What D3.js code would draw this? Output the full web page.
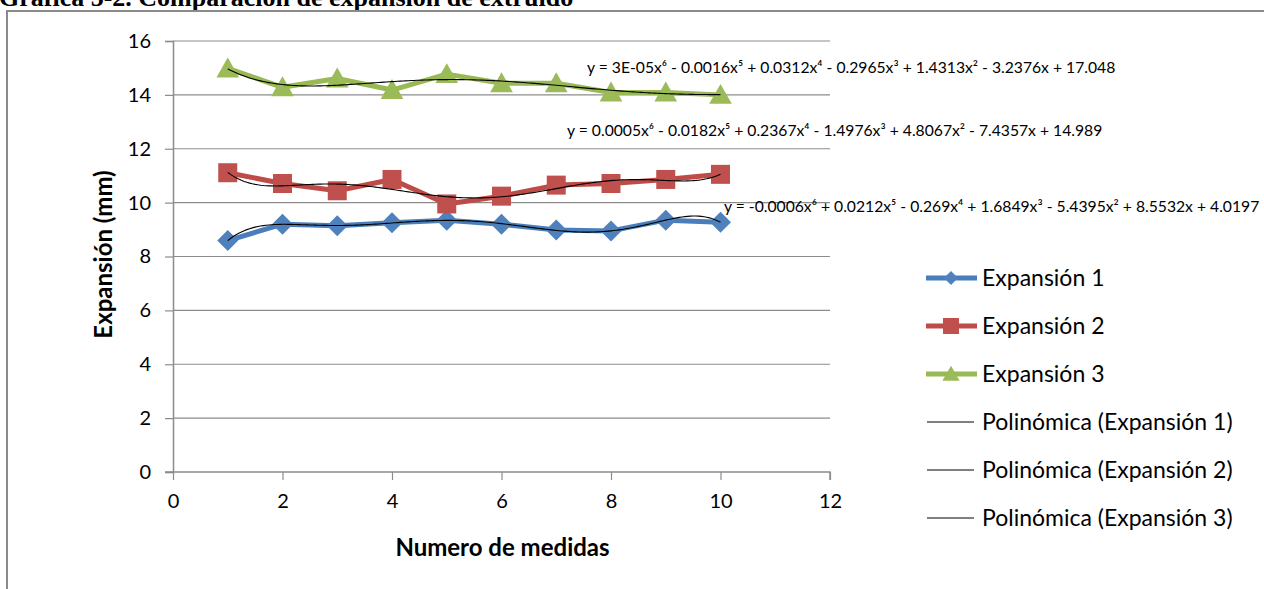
<!DOCTYPE html>
<html>
<head>
<meta charset="utf-8">
<script src="https://cdn.jsdelivr.net/npm/d3@7"></script>
<style>
  html, body { margin: 0; padding: 0; background: #ffffff; }
  svg { display: block; }
</style>
</head>
<body>
<svg id="chart" width="1264" height="589"></svg>
<script>
// ---- Data ----
const medidas = [1, 2, 3, 4, 5, 6, 7, 8, 9, 10];
const expansion1 = [8.59, 9.20, 9.14, 9.25, 9.35, 9.20, 8.98, 8.95, 9.35, 9.27];
const expansion2 = [11.11, 10.71, 10.44, 10.86, 9.95, 10.24, 10.65, 10.71, 10.86, 11.05];
const expansion3 = [14.98, 14.28, 14.61, 14.18, 14.77, 14.43, 14.43, 14.09, 14.09, 14.00];
const seriesNames = ["Expansión 1", "Expansión 2", "Expansión 3"];
const trendNames = ["Polinómica (Expansión 1)", "Polinómica (Expansión 2)", "Polinómica (Expansión 3)"];
const equations = [
  "y = -0.0006x⁶ + 0.0212x⁵ - 0.269x⁴ + 1.6849x³ - 5.4395x² + 8.5532x + 4.0197",
  "y = 0.0005x⁶ - 0.0182x⁵ + 0.2367x⁴ - 1.4976x³ + 4.8067x² - 7.4357x + 14.989",
  "y = 3E-05x⁶ - 0.0016x⁵ + 0.0312x⁴ - 0.2965x³ + 1.4313x² - 3.2376x + 17.048"
];
const xTicks = [0, 2, 4, 6, 8, 10, 12];
const yTicks = [0, 2, 4, 6, 8, 10, 12, 14, 16];
const titleText = "Gráfica 5-2. Comparación de expansión de extruido";
const xTitle = "Numero de medidas";
const yTitle = "Expansión (mm)";

// ---- Styling ----
const lineColors = ["#4A7EBB", "#BE4B48", "#98B954"];
const markColors = ["#4F81BD", "#C0504D", "#9BBB59"];
const markerKinds = ["diamond", "square", "triangle"];
const font = "Lato, 'Open Sans', sans-serif";

const svg = d3.select("#chart");

// Plot area
const plot = { left: 173, right: 830, top: 41, bottom: 472 };
const x = d3.scaleLinear().domain([0, 12]).range([plot.left, plot.right]);
const y = d3.scaleLinear().domain([0, 16]).range([plot.bottom, plot.top]);

// Page title (partly cut by the page edge) and the chart frame
svg.append("text")
  .attr("x", -1).attr("y", 6)
  .attr("font-family", "'Liberation Serif', 'Times New Roman', serif")
  .attr("font-weight", "bold").attr("font-size", 26)
  .attr("fill", "#000").text(titleText);

svg.append("path")
  .attr("d", `M7,589 L7,11 L1264,11`)
  .attr("fill", "none").attr("stroke", "#8a8a8a").attr("stroke-width", 2);

// Horizontal gridlines
svg.append("g").selectAll("line")
  .data(yTicks.filter(d => d > 0))
  .join("line")
  .attr("x1", plot.left).attr("x2", plot.right)
  .attr("y1", d => y(d)).attr("y2", d => y(d))
  .attr("stroke", "#8c8c8c").attr("stroke-width", 1.2);

// Axes
const yAxis = svg.append("g")
  .attr("transform", `translate(${plot.left},0)`)
  .call(d3.axisLeft(y).tickValues(yTicks).tickSize(8).tickPadding(14).tickFormat(d3.format("d")));
const xAxis = svg.append("g")
  .attr("transform", `translate(0,${plot.bottom})`)
  .call(d3.axisBottom(x).tickValues(xTicks).tickSize(8).tickPadding(14).tickFormat(d3.format("d")));

[yAxis, xAxis].forEach(g => {
  g.select(".domain").attr("stroke", "#8c8c8c").attr("stroke-width", 1.5);
  g.selectAll(".tick line").attr("stroke", "#8c8c8c").attr("stroke-width", 1.2);
  g.selectAll(".tick text").attr("font-family", font).attr("font-size", 20).attr("fill", "#000");
});
xAxis.select(".domain").attr("d", `M${plot.left - 8},0H${plot.right}V8`);

// Axis titles
svg.append("text")
  .attr("transform", `translate(112,${(plot.top + plot.bottom) / 2 - 2}) rotate(-90)`)
  .attr("text-anchor", "middle")
  .attr("font-family", font).attr("font-weight", "bold").attr("font-size", 24)
  .text(yTitle);
svg.append("text")
  .attr("x", (plot.left + plot.right) / 2 + 1).attr("y", 556)
  .attr("text-anchor", "middle")
  .attr("font-family", font).attr("font-weight", "bold").attr("font-size", 24)
  .text(xTitle);

// ---- Least-squares polynomial fit (degree 6) for the trendlines ----
function polyfit(xs, ys, deg) {
  const mx = d3.mean(xs), sx = (d3.max(xs) - d3.min(xs)) / 2;
  const n = deg + 1;
  const A = Array.from({length: n}, () => new Array(n + 1).fill(0));
  xs.forEach((xv, k) => {
    const t = (xv - mx) / sx;
    const pw = Array.from({length: n}, (_, i) => Math.pow(t, i));
    for (let i = 0; i < n; i++) {
      for (let j = 0; j < n; j++) A[i][j] += pw[i] * pw[j];
      A[i][n] += pw[i] * ys[k];
    }
  });
  for (let c = 0; c < n; c++) {
    let p = c;
    for (let r = c + 1; r < n; r++) if (Math.abs(A[r][c]) > Math.abs(A[p][c])) p = r;
    [A[c], A[p]] = [A[p], A[c]];
    for (let r = 0; r < n; r++) {
      if (r === c) continue;
      const f = A[r][c] / A[c][c];
      for (let k = c; k <= n; k++) A[r][k] -= f * A[c][k];
    }
  }
  const coef = A.map((row, i) => row[n] / row[i]);
  return xv => {
    const t = (xv - mx) / sx;
    return coef.reduce((s, c, i) => s + c * Math.pow(t, i), 0);
  };
}

// Marker shapes
function markerPath(kind, s) {
  if (kind === "diamond") return `M0,${-s}L${s},0L0,${s}L${-s},0Z`;
  if (kind === "square") return `M${-s},${-s}H${s}V${s}H${-s}Z`;
  const h = s * 1.9;
  return `M0,${-h * 0.55}L${s * 1.08},${h * 0.45}L${-s * 1.08},${h * 0.45}Z`;
}

const allSeries = [expansion1, expansion2, expansion3];
const line = d3.line().x(d => x(d[0])).y(d => y(d[1]));
const markerSize = [10.5, 9.5, 10.5];

allSeries.forEach((vals, i) => {
  const pts = medidas.map((m, k) => [m, vals[k]]);
  const g = svg.append("g");
  g.append("path").datum(pts)
    .attr("d", line).attr("fill", "none")
    .attr("stroke", lineColors[i]).attr("stroke-width", 5)
    .attr("stroke-linejoin", "round");
  g.selectAll("path.mk").data(pts).join("path")
    .attr("class", "mk")
    .attr("transform", d => `translate(${x(d[0])},${y(d[1])})`)
    .attr("d", markerPath(markerKinds[i], markerSize[i]))
    .attr("fill", markColors[i]);
});

// Trendlines drawn above the series
allSeries.forEach((vals, i) => {
  const f = polyfit(medidas, vals, 6);
  const curve = d3.range(1, 10.001, 0.05).map(v => [v, f(v)]);
  svg.append("path").datum(curve)
    .attr("d", line).attr("fill", "none")
    .attr("stroke", "#000").attr("stroke-width", 1.1);
});

// Trendline equations
const eqPos = [[724, 212], [567, 136], [587, 73]];
equations.forEach((eq, i) => {
  svg.append("text")
    .attr("x", eqPos[i][0]).attr("y", eqPos[i][1])
    .attr("font-family", font).attr("font-size", 15.7)
    .attr("fill", "#000").text(eq);
});

// ---- Legend ----
const legendRows = [0, 1, 2, 3, 4, 5];
const legY = d => 278 + d * 48;
const leg = svg.append("g");
legendRows.forEach(r => {
  const gy = legY(r);
  if (r < 3) {
    leg.append("line").attr("x1", 926).attr("x2", 977).attr("y1", gy).attr("y2", gy)
      .attr("stroke", lineColors[r]).attr("stroke-width", 5);
    leg.append("path").attr("transform", `translate(951,${gy})`)
      .attr("d", markerPath(markerKinds[r], [7, 8, 8][r]))
      .attr("fill", markColors[r]);
  } else {
    leg.append("line").attr("x1", 927).attr("x2", 974).attr("y1", gy).attr("y2", gy)
      .attr("stroke", "#000").attr("stroke-width", 1.1);
  }
  leg.append("text")
    .attr("x", 982).attr("y", gy + 8)
    .attr("font-family", font).attr("font-size", 23).attr("fill", "#000")
    .text(r < 3 ? seriesNames[r] : trendNames[r - 3]);
});
</script>
</body>
</html>
